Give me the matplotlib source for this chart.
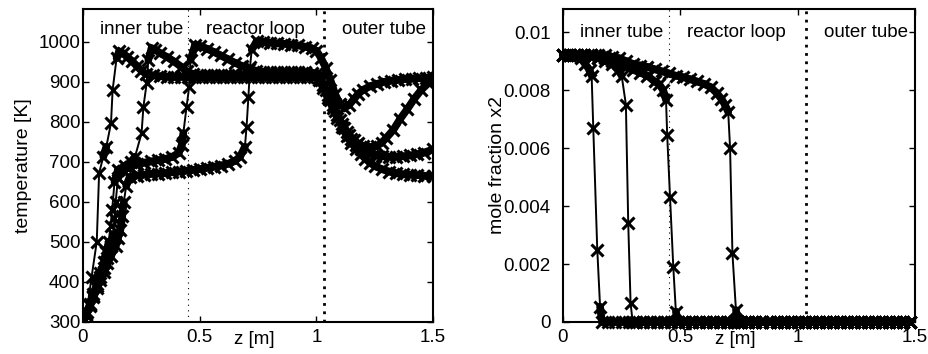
import matplotlib
matplotlib.use('Agg')
import matplotlib.pyplot as plt
from matplotlib.collections import LineCollection
import numpy as np

plt.rcParams['font.family'] = ['Liberation Sans', 'DejaVu Sans']

# temperature profiles (z [m], T [K]) for four snapshots
temp_a = [(0.0, 300), (0.016, 326), (0.037, 413), (0.059, 501), (0.069, 672), (0.087, 713),
          (0.10, 738), (0.12, 797), (0.127, 880), (0.144, 959), (0.155, 976), (0.17, 972),
          (0.19, 962), (0.21, 952), (0.23, 940), (0.25, 928), (0.27, 920), (0.30, 916),
          (0.33, 914), (0.36, 913), (0.39, 913), (0.42, 913), (0.45, 912), (0.48, 912),
          (0.51, 912), (0.54, 912), (0.57, 912), (0.60, 912), (0.63, 912), (0.66, 912),
          (0.69, 912), (0.72, 912), (0.75, 912), (0.78, 912), (0.81, 912), (0.84, 912),
          (0.87, 912), (0.90, 912), (0.93, 912), (0.96, 912), (0.99, 912), (1.01, 905),
          (1.03, 885), (1.05, 860), (1.07, 835), (1.09, 810), (1.11, 787), (1.13, 765),
          (1.15, 748), (1.17, 733), (1.19, 720), (1.21, 708), (1.23, 698), (1.25, 690),
          (1.28, 682), (1.31, 676), (1.34, 672), (1.37, 669), (1.40, 668), (1.43, 667),
          (1.46, 666), (1.50, 666)]

temp_b = [(0.0, 300), (0.015, 322), (0.03, 345), (0.045, 370), (0.06, 395), (0.075, 422),
          (0.09, 450), (0.10, 474), (0.11, 500), (0.118, 540), (0.125, 580),
          (0.135, 650), (0.15, 680), (0.18, 690), (0.205, 700), (0.223, 713), (0.251, 772),
          (0.259, 838), (0.273, 897), (0.28, 955), (0.294, 984), (0.31, 980), (0.33, 972),
          (0.36, 962), (0.39, 951), (0.42, 938), (0.445, 926), (0.47, 920), (0.50, 918),
          (0.53, 918), (0.56, 918), (0.59, 918), (0.62, 918), (0.65, 918), (0.68, 918),
          (0.71, 918), (0.74, 918), (0.77, 918), (0.80, 918), (0.83, 918), (0.86, 918),
          (0.89, 918), (0.92, 918), (0.95, 918), (0.98, 917), (1.01, 910), (1.03, 893),
          (1.05, 868), (1.07, 843), (1.09, 818), (1.11, 795), (1.13, 775), (1.15, 757),
          (1.17, 743), (1.19, 732), (1.22, 723), (1.25, 717), (1.28, 714), (1.31, 713),
          (1.34, 713), (1.37, 714), (1.40, 716), (1.43, 719), (1.46, 723), (1.50, 731)]

temp_c = [(0.0, 300), (0.015, 320), (0.03, 343), (0.045, 366), (0.06, 390), (0.075, 412),
          (0.09, 435), (0.105, 460), (0.12, 490), (0.13, 520), (0.135, 560), (0.14, 600),
          (0.15, 660), (0.17, 678), (0.20, 688), (0.23, 694), (0.26, 698), (0.29, 701),
          (0.32, 704), (0.35, 707), (0.38, 712), (0.41, 722), (0.423, 742), (0.43, 772),
          (0.444, 838), (0.455, 888), (0.461, 955), (0.48, 992), (0.50, 990), (0.53, 983),
          (0.56, 975), (0.59, 966), (0.62, 957), (0.65, 948), (0.68, 940), (0.71, 933),
          (0.74, 928), (0.77, 925), (0.80, 924), (0.83, 924), (0.86, 924), (0.89, 924),
          (0.92, 924), (0.95, 924), (0.98, 923), (1.00, 920), (1.02, 905), (1.04, 880),
          (1.06, 855), (1.08, 828), (1.10, 805), (1.12, 785), (1.14, 768), (1.16, 755),
          (1.18, 746), (1.20, 740), (1.23, 737), (1.26, 740), (1.28, 748), (1.30, 760),
          (1.33, 780), (1.36, 808), (1.39, 832), (1.42, 858), (1.45, 880), (1.48, 897),
          (1.50, 905)]

temp_d = [(0.0, 300), (0.015, 318), (0.03, 340), (0.045, 362), (0.06, 384), (0.075, 405),
          (0.09, 425), (0.105, 447), (0.12, 465), (0.14, 490), (0.15, 510), (0.16, 530),
          (0.168, 565), (0.175, 600),
          (0.185, 640), (0.20, 662), (0.23, 666), (0.26, 668), (0.29, 670), (0.32, 671),
          (0.35, 672), (0.38, 674), (0.41, 676), (0.44, 678), (0.47, 680), (0.50, 682),
          (0.53, 685), (0.56, 688), (0.59, 691), (0.62, 695), (0.65, 702), (0.673, 713),
          (0.694, 738), (0.701, 788), (0.709, 863), (0.716, 938), (0.723, 980), (0.744, 1001),
          (0.77, 1000), (0.80, 998), (0.83, 996), (0.86, 995), (0.89, 993), (0.92, 991),
          (0.95, 988), (0.98, 984), (1.00, 978), (1.02, 960), (1.04, 935), (1.06, 905),
          (1.08, 870), (1.10, 845), (1.12, 835), (1.14, 842), (1.16, 856), (1.18, 870),
          (1.20, 880), (1.23, 889), (1.26, 895), (1.29, 900), (1.32, 903), (1.35, 905),
          (1.38, 907), (1.41, 908), (1.44, 909), (1.47, 910), (1.50, 911)]

# mole fraction x2 profiles (z [m], x2) up to the point where they reach zero
frac_a = [(0.0, 0.0092), (0.025, 0.0092), (0.05, 0.0092), (0.075, 0.0091), (0.095, 0.0089),
          (0.113, 0.0087), (0.122, 0.0085), (0.129, 0.0067), (0.146, 0.0025),
          (0.158, 0.00053), (0.166, 0.0)]

frac_b = [(0.0, 0.0092), (0.03, 0.0092), (0.06, 0.0092), (0.09, 0.0092), (0.12, 0.0092),
          (0.15, 0.0091), (0.18, 0.0090), (0.21, 0.0089), (0.235, 0.0087), (0.25, 0.0085),
          (0.268, 0.0075), (0.278, 0.0034), (0.288, 0.00064), (0.297, 0.0)]

frac_c = [(0.0, 0.0092), (0.03, 0.0092), (0.06, 0.0092), (0.09, 0.0092), (0.12, 0.0092),
          (0.15, 0.0091), (0.18, 0.0091), (0.21, 0.0090), (0.24, 0.0089), (0.27, 0.0088),
          (0.30, 0.0087), (0.33, 0.0086), (0.36, 0.0085), (0.39, 0.0083), (0.41, 0.0082),
          (0.427, 0.0080), (0.439, 0.00766), (0.444, 0.00645), (0.456, 0.00432),
          (0.47, 0.0019), (0.481, 0.00036), (0.49, 0.0)]

frac_d = [(0.0, 0.0092), (0.03, 0.0092), (0.06, 0.0092), (0.09, 0.0092), (0.12, 0.0092),
          (0.15, 0.0092), (0.18, 0.0092), (0.21, 0.00915), (0.24, 0.0091), (0.27, 0.0090),
          (0.30, 0.0089), (0.33, 0.00885), (0.36, 0.0088), (0.39, 0.00872), (0.42, 0.00865),
          (0.45, 0.00858), (0.48, 0.0085), (0.51, 0.00845), (0.54, 0.00838), (0.57, 0.0083),
          (0.60, 0.00822), (0.63, 0.0081), (0.655, 0.0079), (0.675, 0.0077), (0.69, 0.0075),
          (0.704, 0.00725), (0.712, 0.0060), (0.722, 0.00237), (0.737, 0.00041),
          (0.746, 0.0)]

# z positions of the burnt-out (x2 = 0) part of every profile
z_zero = [0.19, 0.22, 0.25, 0.28, 0.31, 0.34, 0.37, 0.40, 0.43, 0.46, 0.49, 0.52, 0.55,
          0.58, 0.61, 0.64, 0.67, 0.70, 0.73, 0.76, 0.79, 0.82, 0.85, 0.88, 0.91, 0.94,
          0.97, 1.00, 1.03, 1.06, 1.09, 1.12, 1.15, 1.18, 1.21, 1.24, 1.27, 1.30, 1.33,
          1.36, 1.39, 1.42, 1.45, 1.48]

# section borders and names
z_borders = [0.45, 1.035]
sections = ['inner tube', 'reactor loop', 'outer tube']
section_z = [0.25, 0.74, 1.29]

temp_ticks = [300, 400, 500, 600, 700, 800, 900, 1000]
frac_ticks = [0, 0.002, 0.004, 0.006, 0.008, 0.01]
z_ticks = [0, 0.5, 1, 1.5]


def draw_profile(ax, pts, clip=True):
    z = np.array([p[0] for p in pts])
    v = np.array([p[1] for p in pts])
    # where the markers sit close together they merge into a solid band
    xy = ax.transData.transform(np.column_stack([z, v]))
    step = np.hypot(*np.diff(xy, axis=0).T)
    segs = [[(z[i], v[i]), (z[i + 1], v[i + 1])] for i in range(len(z) - 1) if step[i] < 16]
    band = LineCollection(segs, colors='k', linewidths=5.5, capstyle='round')
    band.set_clip_on(clip)
    ax.add_collection(band)
    ax.plot(z, v, color='k', lw=1.4, marker='x', ms=8, mew=2.2, clip_on=clip)


def style_axes(ax, pad_y):
    for s in ax.spines.values():
        s.set_linewidth(1.5)
    ax.tick_params(direction='in', top=True, right=True, length=4, width=1,
                   labelsize=13.5)
    ax.tick_params(axis='y', pad=pad_y)
    ax.tick_params(axis='x', pad=5)
    ax.set_xticks(z_ticks)
    ax.set_xticklabels(['0', '0.5', '1', '1.5'])
    ax.set_xlabel('z [m]', fontsize=13.5)
    ax.xaxis.set_label_coords(0.49, -0.03)
    ax.axvline(z_borders[0], color='k', lw=0.8, ls=(0, (1, 4)))
    ax.axvline(z_borders[1], color='k', lw=2, ls=(0, (1, 2)))


fig = plt.figure(figsize=(9.29, 3.54), dpi=100)
ax1 = fig.add_axes([83 / 929, 32 / 354, 350 / 929, 313 / 354])
ax2 = fig.add_axes([563 / 929, 32 / 354, 352 / 929, 313 / 354])

# left: temperature
ax1.set_xlim(0, 1.5)
ax1.set_ylim(300, 1082)
for prof in [temp_a, temp_b, temp_c, temp_d]:
    draw_profile(ax1, prof)
style_axes(ax1, 2)
ax1.set_yticks(temp_ticks)
ax1.set_ylabel('temperature [K]', fontsize=14)
ax1.yaxis.set_label_coords(-0.145, 0.5)
for name, zc in zip(sections, section_z):
    ax1.text(zc, 1030, name, ha='center', va='center', fontsize=13.5)

# right: mole fraction
ax2.set_xlim(0, 1.5)
ax2.set_ylim(0, 0.0108)
for prof in [frac_a, frac_b, frac_c, frac_d]:
    tail = [(z, 0.0) for z in z_zero if z > prof[-1][0]]
    draw_profile(ax2, prof + tail, clip=False)
style_axes(ax2, 9)
ax2.set_yticks(frac_ticks)
ax2.set_yticklabels(['0', '0.002', '0.004', '0.006', '0.008', '0.01'])
ax2.set_ylabel('mole fraction x2', fontsize=14)
ax2.yaxis.set_label_coords(-0.162, 0.5)
for name, zc in zip(sections, section_z):
    ax2.text(zc, 0.0100, name, ha='center', va='center', fontsize=13.5)

fig.savefig('out.png', dpi=100)
